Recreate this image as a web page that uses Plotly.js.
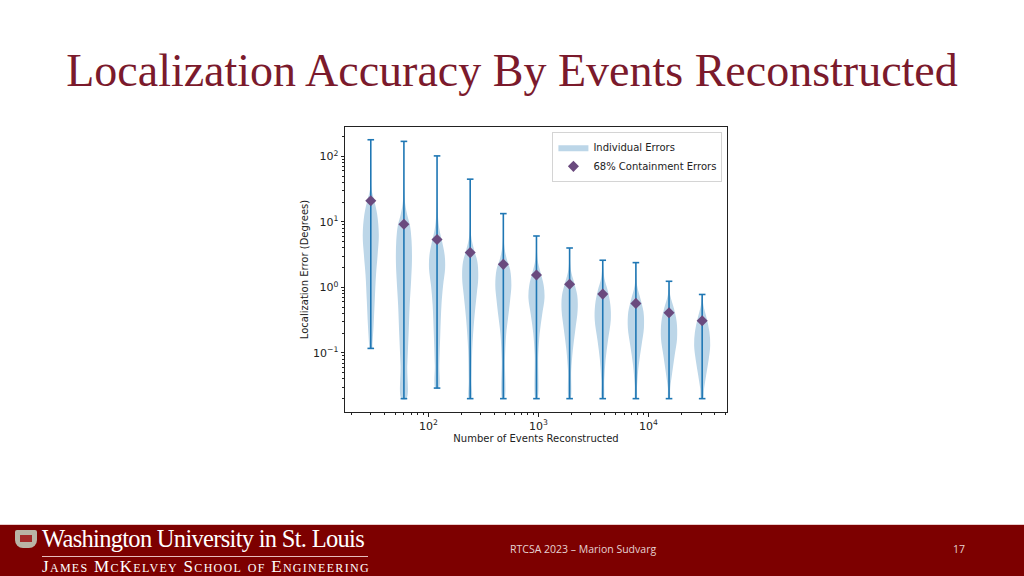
<!DOCTYPE html>
<html>
<head>
<meta charset="utf-8">
<script src="https://cdn.plot.ly/plotly-3.0.1.min.js"></script>
<style>
  html, body { margin: 0; padding: 0; background: #fff; }
  #slide { position: relative; width: 1024px; height: 576px; overflow: hidden; }
  #myPlot { position: absolute; left: 0; top: 0; width: 1024px; height: 576px; }
  #footer { position: absolute; left: 0; top: 524px; width: 1024px; height: 52px; background: #7d0000;
            border-top: 1px solid #e9cccc; }
  .shield { position: absolute; left: 15px; top: 5px; width: 22px; height: 18px; background: #b9b4a6;
            border-radius: 2px 2px 8px 8px; }
  .shield div { position: absolute; left: 5px; top: 5px; width: 12px; height: 7px; background: #a32a2a; }
  .wu { position: absolute; left: 42px; top: 0px; color: #fff; font-family: "Liberation Serif", serif;
        font-size: 24.5px; letter-spacing: -0.7px; white-space: nowrap; }
  .rule { position: absolute; left: 42px; top: 31px; width: 326px; height: 1px; background: #e6bcbc; }
  .sch { position: absolute; left: 42px; top: 32px; color: #fff; font-family: "Liberation Serif", serif;
         font-size: 17px; font-variant: small-caps; letter-spacing: 1.3px; white-space: nowrap; }
  .foot { position: absolute; top: 17px; color: #e6d2d2; font-family: "Open Sans", sans-serif; font-size: 10.5px;
          white-space: nowrap; }
</style>
</head>
<body>
<div id="slide">
  <div id="myPlot"></div>
  <div id="footer">
    <div class="shield"><div></div></div>
    <div class="wu">Washington University in St. Louis</div>
    <div class="rule"></div>
    <div class="sch">James McKelvey School of Engineering</div>
    <div class="foot" style="left:510px">RTCSA 2023 – Marion Sudvarg</div>
    <div class="foot" style="left:953px">17</div>
  </div>
</div>
<script>
// number of events reconstructed (violin positions)
var events = [30, 60, 120, 240, 480, 960, 1920, 3840, 7680, 15360, 30720];
// whisker ends (degrees)
var errMax = [180, 170, 102, 45, 13.4, 6.1, 4.0, 2.6, 2.39, 1.24, 0.78];
var errMin = [0.117, 0.02, 0.029, 0.02, 0.02, 0.02, 0.02, 0.02, 0.02, 0.02, 0.02];
// 68% containment error (degrees)
var contain68 = [21, 9.2, 5.4, 3.4, 2.25, 1.55, 1.12, 0.79, 0.57, 0.41, 0.31];

// tick labels
var xTickVals = [100, 1000, 10000];
var xTickText = ["10<sup>2</sup>", "10<sup>3</sup>", "10<sup>4</sup>"];
var yTickVals = [0.1, 1, 10, 100];
var yTickText = ["10<sup>\u22121</sup>", "10<sup>0</sup>", "10<sup>1</sup>", "10<sup>2</sup>"];

// violin outlines: error levels (degrees) and relative half-width
var violinLevels = [
  [180, 60, 31, 22, 13, 6.3, 3.1, 1.55, 0.65, 0.26, 0.13, 0.117],
  [170, 22, 13, 8.9, 5.2, 2.6, 1.3, 0.54, 0.19, 0.065, 0.02],
  [102, 13, 7.6, 5.2, 3.1, 1.95, 1.07, 0.54, 0.19, 0.065, 0.029],
  [45, 6.3, 3.7, 2.45, 1.38, 0.76, 0.32, 0.11, 0.038, 0.02],
  [13.4, 4.5, 2.8, 1.86, 1.07, 0.65, 0.35, 0.19, 0.078, 0.02],
  [6.1, 2.6, 1.7, 1.07, 0.69, 0.38, 0.2, 0.093, 0.02],
  [4.0, 1.86, 1.2, 0.76, 0.45, 0.22, 0.11, 0.054, 0.02],
  [2.6, 1.38, 0.91, 0.54, 0.32, 0.155, 0.078, 0.038, 0.02],
  [2.39, 1.07, 0.65, 0.42, 0.24, 0.13, 0.065, 0.032, 0.02],
  [1.24, 0.76, 0.48, 0.3, 0.166, 0.091, 0.05, 0.029, 0.02],
  [0.78, 0.54, 0.34, 0.21, 0.13, 0.078, 0.046, 0.029, 0.02]
];
var violinWidths = [
  [0.02, 0.05, 0.1, 0.4, 0.8, 1.0, 0.85, 0.65, 0.5, 0.35, 0.2, 0.18],
  [0.02, 0.1, 0.4, 0.75, 0.95, 1.0, 0.9, 0.72, 0.58, 0.42, 0.3],
  [0.02, 0.1, 0.3, 0.6, 0.95, 1.0, 0.75, 0.55, 0.4, 0.28, 0.2],
  [0.02, 0.1, 0.5, 0.9, 1.0, 0.8, 0.5, 0.25, 0.18, 0.15],
  [0.02, 0.1, 0.4, 0.85, 1.0, 0.85, 0.6, 0.35, 0.2, 0.12],
  [0.02, 0.15, 0.5, 0.9, 1.0, 0.7, 0.4, 0.22, 0.1],
  [0.02, 0.15, 0.55, 0.95, 1.0, 0.7, 0.4, 0.2, 0.1],
  [0.02, 0.2, 0.6, 0.95, 1.0, 0.65, 0.35, 0.18, 0.1],
  [0.02, 0.15, 0.6, 0.95, 1.0, 0.7, 0.35, 0.15, 0.08],
  [0.02, 0.15, 0.6, 0.95, 1.0, 0.7, 0.4, 0.15, 0.08],
  [0.02, 0.15, 0.55, 0.9, 1.0, 0.8, 0.5, 0.25, 0.12]
];

var halfWidth = 0.073;   // widest violin half-width, in decades of x
var capHalf = 0.03;      // whisker cap half-width, in decades of x

var data = [];

// violin bodies
for (var i = 0; i < events.length; i++) {
  var lv = violinLevels[i], wd = violinWidths[i];
  var xs = [], ys = [];
  for (var j = 0; j < lv.length; j++) {
    xs.push(events[i] * Math.pow(10, wd[j] * halfWidth));
    ys.push(lv[j]);
  }
  for (var j = lv.length - 1; j >= 0; j--) {
    xs.push(events[i] * Math.pow(10, -wd[j] * halfWidth));
    ys.push(lv[j]);
  }
  data.push({
    x: xs, y: ys,
    mode: "lines",
    fill: "toself",
    fillcolor: "#bcd6e8",
    line: { width: 0, shape: "spline", color: "#bcd6e8" },
    name: "Individual Errors",
    legendgroup: "viol",
    showlegend: i === 0,
    hoverinfo: "skip"
  });
}

// whiskers with caps
var wx = [], wy = [];
for (var i = 0; i < events.length; i++) {
  var lo = events[i] * Math.pow(10, -capHalf), hi = events[i] * Math.pow(10, capHalf);
  wx.push(events[i], events[i], null, lo, hi, null, lo, hi, null);
  wy.push(errMin[i], errMax[i], null, errMax[i], errMax[i], null, errMin[i], errMin[i], null);
}
data.push({
  x: wx, y: wy,
  mode: "lines",
  line: { color: "#1f77b4", width: 1.6 },
  showlegend: false,
  hoverinfo: "skip"
});

// 68% containment diamonds
data.push({
  x: events, y: contain68,
  mode: "markers",
  marker: { symbol: "diamond", size: 8.5, color: "#6a4a7e" },
  name: "68% Containment Errors"
});

var tickFont = { family: "DejaVu Sans", size: 11, color: "#222" };
var labelFont = { family: "DejaVu Sans", size: 10, color: "#222" };

var layout = {
  width: 1024,
  height: 576,
  paper_bgcolor: "rgba(0,0,0,0)",
  plot_bgcolor: "#fff",
  margin: { l: 345, r: 297, t: 127, b: 164 },
  title: {
    text: "Localization Accuracy By Events Reconstructed",
    font: { family: "Liberation Serif", size: 46, color: "#7b1a2c" },
    x: 0.5, xref: "container", xanchor: "center",
    y: 0.878, yref: "container", yanchor: "middle"
  },
  showlegend: true,
  legend: {
    x: 0.988, y: 0.983, xanchor: "right", yanchor: "top",
    bgcolor: "rgba(255,255,255,0.8)",
    bordercolor: "#d4d4d4", borderwidth: 1,
    font: labelFont,
    tracegroupgap: 0
  },
  xaxis: {
    type: "log",
    range: [1.243, 4.713],
    tickvals: xTickVals, ticktext: xTickText,
    showgrid: false, zeroline: false,
    showline: true, mirror: true, linecolor: "#222", linewidth: 1,
    ticks: "outside", ticklen: 3.5, tickcolor: "#222",
    minor: { dtick: "D1", ticks: "outside", ticklen: 2, tickcolor: "#222", showgrid: false },
    tickfont: tickFont,
    title: { text: "Number of Events Reconstructed", font: labelFont, standoff: 3 }
  },
  yaxis: {
    type: "log",
    range: [-1.903, 2.45],
    tickvals: yTickVals, ticktext: yTickText,
    showgrid: false, zeroline: false,
    showline: true, mirror: true, linecolor: "#222", linewidth: 1,
    ticks: "outside", ticklen: 3.5, tickcolor: "#222",
    minor: { dtick: "D1", ticks: "outside", ticklen: 2, tickcolor: "#222", showgrid: false },
    tickfont: tickFont,
    title: { text: "Localization Error (Degrees)", font: labelFont, standoff: 2 }
  }
};

Plotly.newPlot("myPlot", data, layout, { displayModeBar: false, staticPlot: true });
</script>
</body>
</html>
